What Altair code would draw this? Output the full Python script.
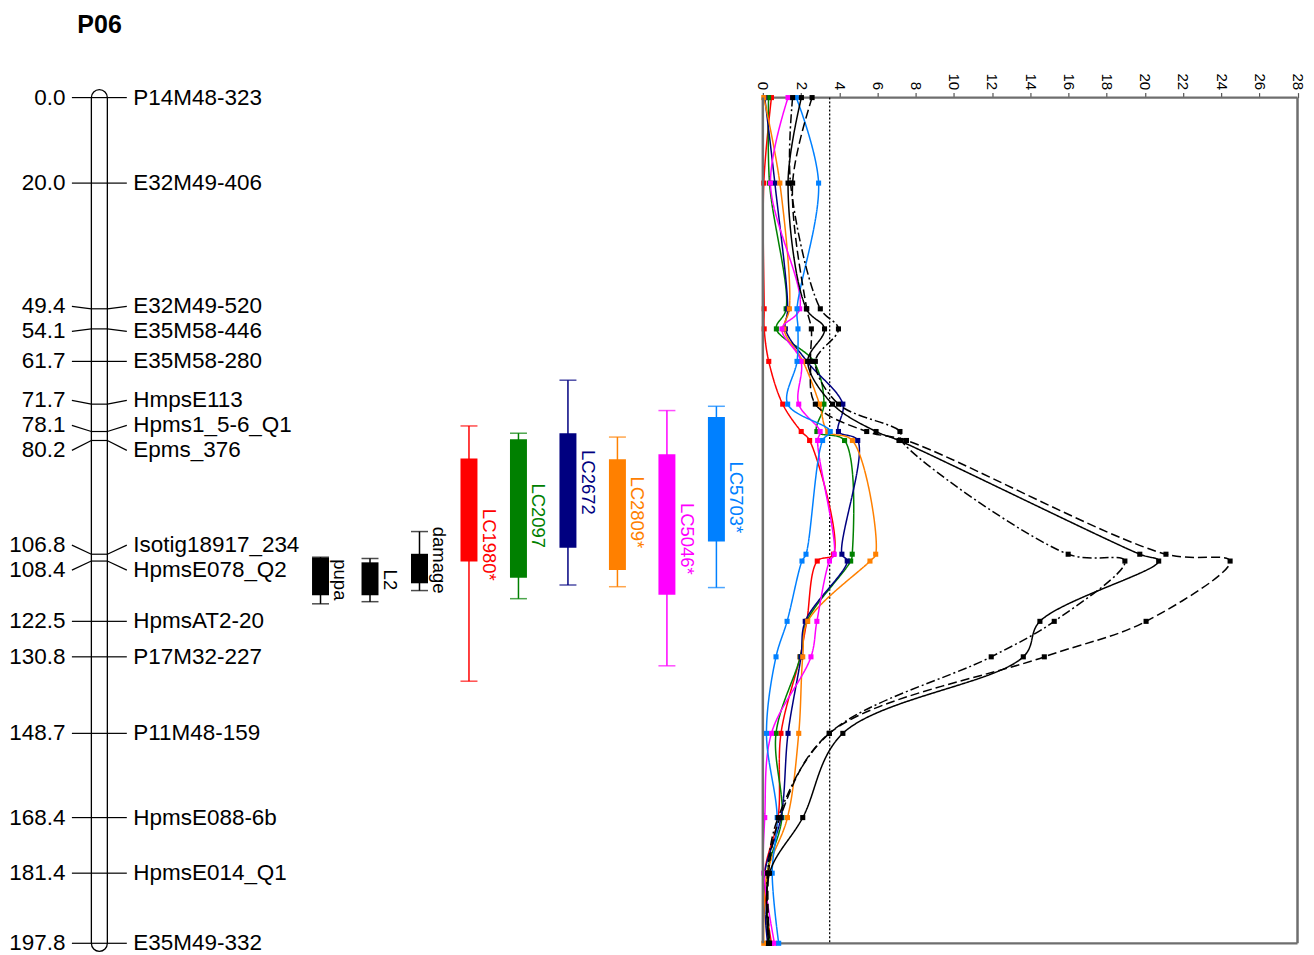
import altair as alt
import pandas as pd

FONT = "Liberation Sans"

# ---------------- data ----------------
marker_pos = [0.0, 20.0, 49.4, 54.1, 61.7, 71.7, 78.1, 80.2, 106.8, 108.4,
              122.5, 130.8, 148.7, 168.4, 181.4, 197.8]
marker_names = ["P14M48-323", "E32M49-406", "E32M49-520", "E35M58-446",
                "E35M58-280", "HmpsE113", "Hpms1_5-6_Q1", "Epms_376",
                "Isotig18917_234", "HpmsE078_Q2", "HpmsAT2-20", "P17M32-227",
                "P11M48-159", "HpmsE088-6b", "HpmsE014_Q1", "E35M49-332"]

qtl_names = ["pupa", "L2", "damage", "LC1980*", "LC2097", "LC2672",
             "LC2809*", "LC5046*", "LC5703*"]
qtl_colors = ["#000000", "#000000", "#000000", "#FF0000", "#008000",
              "#000080", "#FF8000", "#FF00FF", "#0080FF"]
qtl_whisker_lo = [107.5, 107.8, 101.5, 76.8, 78.5, 66.1, 79.4, 73.2, 72.2]
qtl_whisker_hi = [118.4, 117.9, 115.3, 136.5, 117.2, 114.0, 114.4, 132.9, 114.6]
qtl_box_lo = [107.6, 108.7, 106.7, 84.4, 79.9, 78.5, 84.6, 83.4, 74.7]
qtl_box_hi = [116.4, 116.4, 113.6, 108.5, 112.3, 105.3, 110.5, 116.3, 103.8]
qtl_label_pos = [112.8, 112.8, 108.2, 104.6, 97.8, 90.0, 97.0, 103.2, 93.5]

traits = ["LC1980", "LC2097", "LC2672", "LC2809", "LC5046", "LC5703",
          "pupa", "L2", "damage"]
trait_colors = ["#FF0000", "#008000", "#000080", "#FF8000", "#FF00FF",
                "#0080FF", "#000000", "#000000", "#000000"]
trait_dash = [[1, 0], [1, 0], [1, 0], [1, 0], [1, 0], [1, 0],
              [1, 0], [9, 4], [9, 3, 2, 3]]

lod_LC1980 = [0.45, 0.05, 0.07, 0.07, 0.31, 1.04, 2.01, 2.45, 3.70, 2.85,
              2.30, 1.95, 0.95, 0.80, 0.10, 0.45]
lod_LC2097 = [0.30, 0.35, 1.22, 0.71, 2.66, 3.20, 2.83, 4.28, 4.68, 4.60,
              2.30, 1.96, 0.69, 1.00, 0.23, 0.35]
lod_LC2672 = [0.10, 0.63, 1.30, 1.18, 2.31, 4.19, 3.96, 4.97, 4.14, 4.42,
              2.22, 2.00, 1.32, 0.95, 0.10, 0.25]
lod_LC2809 = [0.05, 0.89, 1.39, 1.10, 2.10, 2.97, 3.40, 4.69, 5.91, 5.61,
              2.35, 2.09, 1.88, 1.29, 0.23, 0.05]
lod_LC5046 = [1.32, 0.40, 1.93, 1.00, 2.00, 1.88, 3.00, 2.87, 3.74, 3.49,
              2.83, 2.52, 0.45, 0.10, 0.05, 0.61]
lod_LC5703 = [1.75, 2.92, 1.79, 1.84, 1.79, 1.30, 3.53, 3.13, 2.26, 2.05,
              1.27, 0.69, 0.19, 0.75, 0.49, 0.83]
lod_pupa = [2.02, 1.32, 2.28, 3.23, 2.35, 3.65, 5.93, 7.13, 19.74, 20.73,
            14.51, 13.64, 4.19, 2.09, 0.35, 0.30]
lod_L2 = [2.58, 1.56, 2.30, 2.54, 2.50, 2.75, 5.44, 7.52, 21.11, 24.47,
          20.07, 14.74, 3.48, 0.90, 0.30, 0.35]
lod_damage = [1.56, 1.45, 3.01, 3.96, 2.75, 3.96, 7.18, 7.25, 15.99, 18.96,
              15.26, 11.96, 3.48, 0.80, 0.25, 0.30]
lod_series = [lod_LC1980, lod_LC2097, lod_LC2672, lod_LC2809, lod_LC5046,
              lod_LC5703, lod_pupa, lod_L2, lod_damage]

lod_threshold = 3.5
lod_max = 28
lod_ticks = list(range(0, 29, 2))

# ---------------- layout constants ----------------
H = 847
W = 1300
PX_PER_CM = H / (marker_pos[-1] - marker_pos[0])
LABEL_GAP = 25 / PX_PER_CM


def spread(pos, gap):
    clusters = [[i] for i in range(len(pos))]

    def place(cl):
        c = sum(pos[i] for i in cl) / len(cl)
        start = c - gap * (len(cl) - 1) / 2
        return [start + k * gap for k in range(len(cl))]

    changed = True
    while changed:
        changed = False
        for j in range(len(clusters) - 1):
            a, b = place(clusters[j]), place(clusters[j + 1])
            if a[-1] + gap > b[0] + 1e-9:
                clusters[j] = clusters[j] + clusters[j + 1]
                del clusters[j + 1]
                changed = True
                break
    out = []
    for cl in clusters:
        out.extend(place(cl))
    return out


label_pos = spread(marker_pos, LABEL_GAP)

markers = pd.DataFrame({
    "pos": marker_pos,
    "label": label_pos,
    "name": marker_names,
    "cm": [f"{p:.1f}" for p in marker_pos],
})

qtl = pd.DataFrame({
    "qtl": qtl_names, "col": qtl_colors,
    "wlo": qtl_whisker_lo, "whi": qtl_whisker_hi,
    "blo": qtl_box_lo, "bhi": qtl_box_hi, "lab": qtl_label_pos,
})

rows = []
for t, vals in zip(traits, lod_series):
    for p, v in zip(marker_pos, vals):
        rows.append({"trait": t, "pos": p, "lod": v})
prof = pd.DataFrame(rows)

yscale = alt.Scale(domain=[marker_pos[0], marker_pos[-1]], reverse=True,
                   nice=False, zero=False)
Y = lambda f: alt.Y(f, type="quantitative", scale=yscale, axis=None)

# ---------------- left: linkage group ----------------
chrom = alt.Chart(pd.DataFrame({"top": [marker_pos[0]], "bot": [marker_pos[-1]]})).mark_rect(
    cornerRadius=8, fill="white", stroke="black", strokeWidth=1.3,
    yOffset=-8, y2Offset=8
).encode(x=alt.value(83.5), x2=alt.value(99.5), y=Y("top"), y2=alt.Y2("bot"))

mk = alt.Chart(markers)
seg_left = mk.mark_rule(color="black", strokeWidth=1.2).encode(
    x=alt.value(64), x2=alt.value(83.5), y=Y("label"), y2=alt.Y2("pos"))
seg_mid = mk.mark_rule(color="black", strokeWidth=1.2).encode(
    x=alt.value(83.5), x2=alt.value(99.5), y=Y("pos"))
seg_right = mk.mark_rule(color="black", strokeWidth=1.2).encode(
    x=alt.value(99.5), x2=alt.value(119), y=Y("pos"), y2=alt.Y2("label"))
cm_text = mk.mark_text(align="right", baseline="middle", font=FONT,
                       fontSize=22.5, color="black").encode(
    x=alt.value(57.5), y=Y("label"), text="cm:N")
name_text = mk.mark_text(align="left", baseline="middle", font=FONT,
                         fontSize=22.5, color="black").encode(
    x=alt.value(125.5), y=Y("label"), text="name:N")

title = alt.Chart(pd.DataFrame({"t": ["P06"]})).mark_text(
    align="center", baseline="middle", font=FONT, fontSize=25,
    fontWeight="bold", color="black"
).encode(x=alt.value(91.7), y=alt.value(-73), text="t:N")

qx = alt.X("qtl:N", scale=alt.Scale(type="point", domain=qtl_names,
                                    range=[313, 709.5], padding=0), axis=None)
qc = alt.Color("col:N", scale=None)
qb = alt.Chart(qtl)
whisk = qb.mark_rule(strokeWidth=1.5).encode(x=qx, y=Y("wlo"), y2=alt.Y2("whi"), color=qc)
cap_lo = qb.mark_tick(orient="horizontal", size=17, thickness=1.5).encode(x=qx, y=Y("wlo"), color=qc)
cap_hi = qb.mark_tick(orient="horizontal", size=17, thickness=1.5).encode(x=qx, y=Y("whi"), color=qc)
box = qb.mark_bar(size=17).encode(x=qx, y=Y("blo"), y2=alt.Y2("bhi"), color=qc)
qlab = qb.mark_text(angle=90, align="center", baseline="middle", font=FONT,
                    fontSize=18.5, xOffset=20).encode(
    x=qx, y=Y("lab"), text="qtl:N", color=qc)

left = alt.layer(chrom, seg_left, seg_mid, seg_right, cm_text, name_text,
                 title, whisk, cap_lo, cap_hi, box, qlab)

# ---------------- right: LOD profiles ----------------
lod_axis = alt.Axis(orient="top", values=lod_ticks, labelAngle=90,
                    labelAlign="right", labelBaseline="middle",
                    labelFont=FONT, labelFontSize=15, labelColor="black",
                    labelPadding=3, labelOverlap=False, labelBound=False,
                    labelFlush=False,
                    tickSize=5, tickColor="#555555", tickWidth=1.2,
                    domain=False, grid=False, title=None)
xlod = alt.Scale(domain=[0, lod_max], range=[756, 1291.5], nice=False, zero=False)
X = lambda f: alt.X(f, type="quantitative", scale=xlod, axis=lod_axis)

frame_v = alt.Chart(pd.DataFrame({"lod": [0, lod_max], "top": [marker_pos[0]] * 2,
                                  "bot": [marker_pos[-1]] * 2})).mark_rule(
    color="#6e6e6e", strokeWidth=2.5).encode(x=X("lod"), y=Y("top"), y2=alt.Y2("bot"))
frame_h = alt.Chart(pd.DataFrame({"a": [0, 0], "b": [lod_max, lod_max],
                                  "pos": [marker_pos[0], marker_pos[-1]]})).mark_rule(
    color="#6e6e6e", strokeWidth=2.2).encode(x=X("a"), x2=alt.X2("b"), y=Y("pos"))
thr = alt.Chart(pd.DataFrame({"lod": [lod_threshold], "top": [marker_pos[0]],
                              "bot": [marker_pos[-1]]})).mark_rule(
    color="black", strokeWidth=1.3, strokeDash=[2, 2]).encode(
    x=X("lod"), y=Y("top"), y2=alt.Y2("bot"))

pc = alt.Color("trait:N", scale=alt.Scale(domain=traits, range=trait_colors), legend=None)
lines = alt.Chart(prof).mark_line(interpolate="catmull-rom", strokeWidth=1.5).encode(
    x=X("lod"), y=Y("pos"), color=pc,
    strokeDash=alt.StrokeDash("trait:N", scale=alt.Scale(domain=traits, range=trait_dash), legend=None),
    order=alt.Order("pos:Q"), detail="trait:N")
pts = alt.Chart(prof).mark_square(size=26, opacity=1).encode(
    x=X("lod"), y=Y("pos"), color=pc)

right = alt.layer(frame_h, thr, lines, pts, frame_v)

chart = alt.layer(left, right).resolve_scale(x="independent").properties(
    width=W, height=H,
    autosize=alt.AutoSizeParams(type="none"),
    padding={"left": 0, "top": 89, "right": 0, "bottom": 11},
).configure_view(stroke=None)

chart.save("out.html", embed_options={"renderer": "svg", "actions": False})
